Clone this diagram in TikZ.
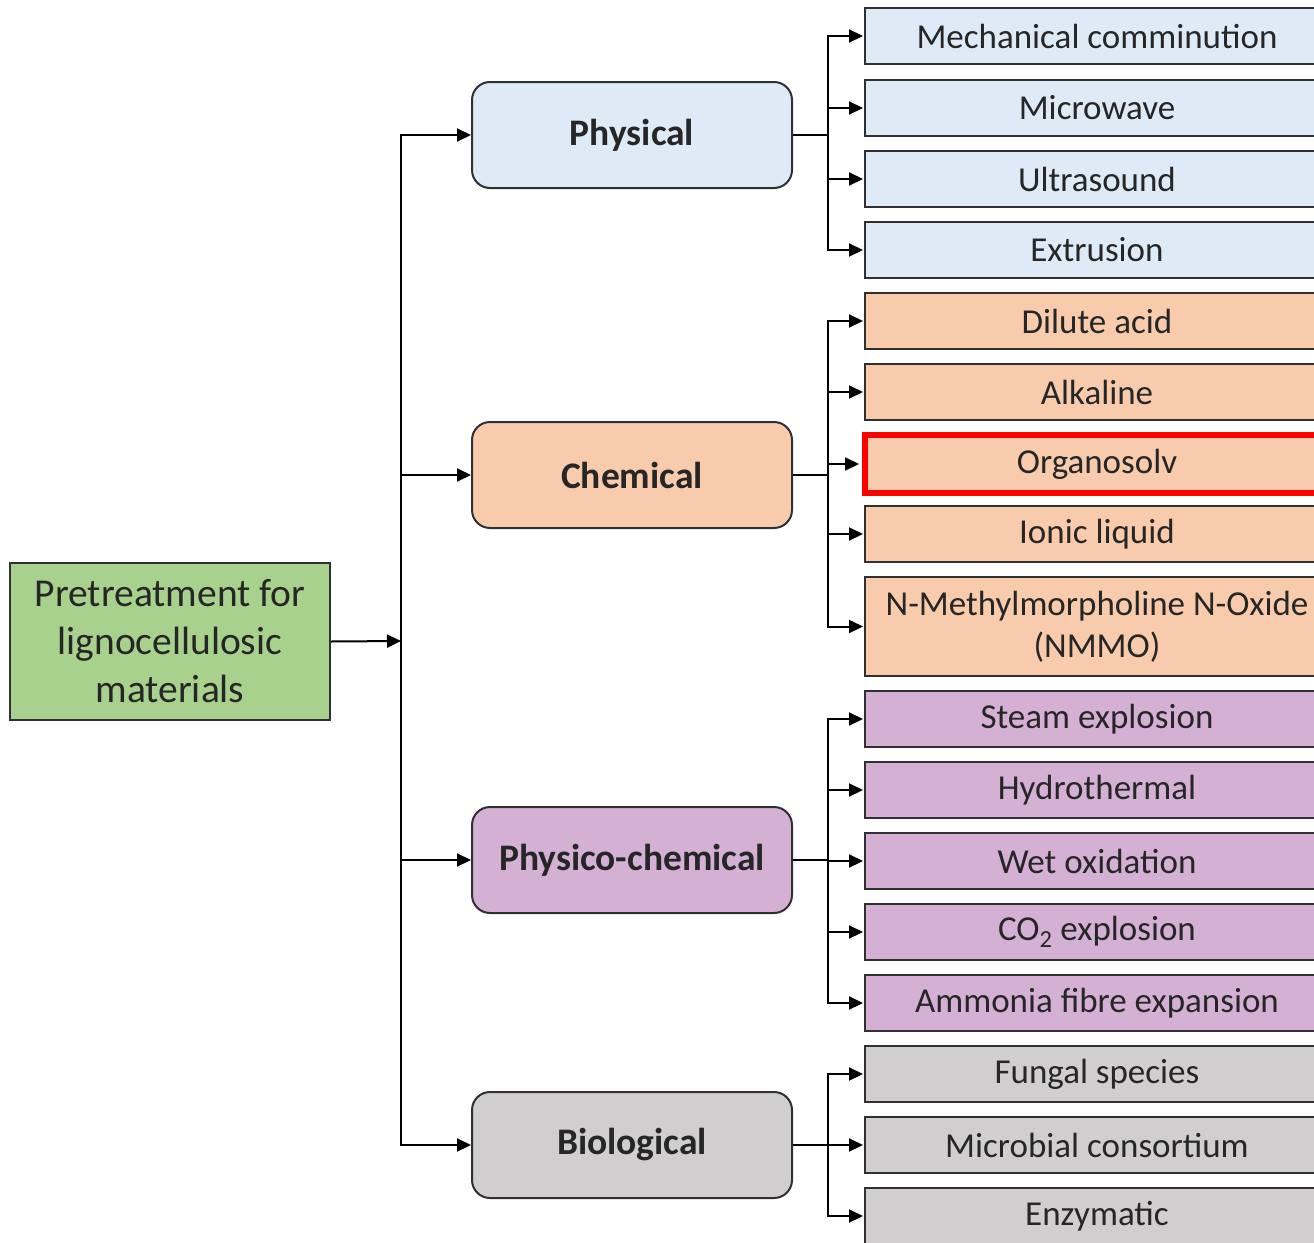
\documentclass[tikz,border=0pt]{standalone}
\usepackage{fontspec}
\setmainfont{Carlito}
\usetikzlibrary{arrows.meta}
\definecolor{cgreen}{HTML}{A9D18E}
\definecolor{cblue}{HTML}{DEEBF7}
\definecolor{corange}{HTML}{F8CBAD}
\definecolor{cpurple}{HTML}{D5B0D5}
\definecolor{cgray}{HTML}{D0CECE}
\definecolor{ctext}{HTML}{262626}
\definecolor{cline}{HTML}{303030}
\begin{document}
\begin{tikzpicture}[x=1pt,y=-1pt,
  every node/.style={text=ctext},
  rootbox/.style={draw=cline,line width=2pt,fill=cgreen,minimum width=320pt,minimum height=157pt,
    align=center,font=\fontsize{39.5}{48}\selectfont,inner sep=0pt},
  catbox/.style={draw=cline,line width=2pt,rounded corners=18pt,minimum width=320pt,minimum height=106pt,
    font=\fontsize{37.5}{42}\selectfont\bfseries,inner sep=0pt},
  leaf/.style={draw=cline,line width=2pt,minimum width=464pt,minimum height=56pt,align=center,
    font=\fontsize{35}{42}\selectfont,inner sep=0pt},
  arr/.style={draw=black,line width=2pt,-{Triangle[length=14pt,width=13pt]}},
  ln/.style={draw=black,line width=2pt}
]
\clip (0,0) rectangle (1314,1242);
\fill[white] (0,0) rectangle (1314,1242);

% root
\node[rootbox] (root) at (170,641.5) {Pretreatment for\\lignocellulosic\\materials};
\coordinate (T) at (401,641);

% categories
\node[catbox,fill=cblue] (phy) at (632,135) {Physical};
\node[catbox,fill=corange] (che) at (632,475) {Chemical};
\node[catbox,fill=cpurple] (pch) at (632,860) {Physico-chemical};
\node[catbox,fill=cgray] (bio) at (632,1145) {Biological};

% leaves
\node[leaf,fill=cblue] (p1) at (1097,36) {Mechanical comminution};
\node[leaf,fill=cblue] (p2) at (1097,108) {Microwave};
\node[leaf,fill=cblue] (p3) at (1097,179) {Ultrasound};
\node[leaf,fill=cblue] (p4) at (1097,250) {Extrusion};

\node[leaf,fill=corange] (c1) at (1097,321) {Dilute acid};
\node[leaf,fill=corange] (c2) at (1097,392) {Alkaline};
\node[leaf,fill=corange,draw=red,line width=6pt,minimum height=58pt] (c3) at (1097,464) {Organosolv};
\node[leaf,fill=corange] (c4) at (1097,534) {Ionic liquid};
\node[leaf,fill=corange,minimum height=99pt] (c5) at (1097,626.5) {N-Methylmorpholine N-Oxide\\(NMMO)};

\node[leaf,fill=cpurple] (h1) at (1097,719) {Steam explosion};
\node[leaf,fill=cpurple] (h2) at (1097,790) {Hydrothermal};
\node[leaf,fill=cpurple] (h3) at (1097,861) {Wet oxidation};
\node[leaf,fill=cpurple] (h4) at (1097,932) {CO\textsubscript{2} explosion};
\node[leaf,fill=cpurple] (h5) at (1097,1003) {Ammonia fibre expansion};

\node[leaf,fill=cgray] (b1) at (1097,1074) {Fungal species};
\node[leaf,fill=cgray] (b2) at (1097,1145) {Microbial consortium};
\node[leaf,fill=cgray] (b3) at (1097,1216) {Enzymatic};

% trunk
\draw[arr] (root.east) -- (T);
\draw[arr] (T) |- (phy.west);
\draw[arr] (T) |- (che.west);
\draw[arr] (T) |- (pch.west);
\draw[arr] (T) |- (bio.west);

% buses
\coordinate (bp) at (828,135);
\coordinate (bc) at (828,475);
\coordinate (bh) at (828,860);
\coordinate (bb) at (828,1145);
\draw[ln] (phy.east) -- (bp);
\draw[ln] (che.east) -- (bc);
\draw[ln] (pch.east) -- (bh);
\draw[ln] (bio.east) -- (bb);
\foreach \n in {p1,p2,p3,p4} \draw[arr] (bp) |- ([xshift=-1pt]\n.west);
\foreach \n in {c1,c2,c4,c5} \draw[arr] (bc) |- ([xshift=-1pt]\n.west);
\draw[arr] (bc) |- ([xshift=-3pt]c3.west);
\foreach \n in {h1,h2,h3,h4,h5} \draw[arr] (bh) |- ([xshift=-1pt]\n.west);
\foreach \n in {b1,b2,b3} \draw[arr] (bb) |- ([xshift=-1pt]\n.west);
\end{tikzpicture}
\end{document}
